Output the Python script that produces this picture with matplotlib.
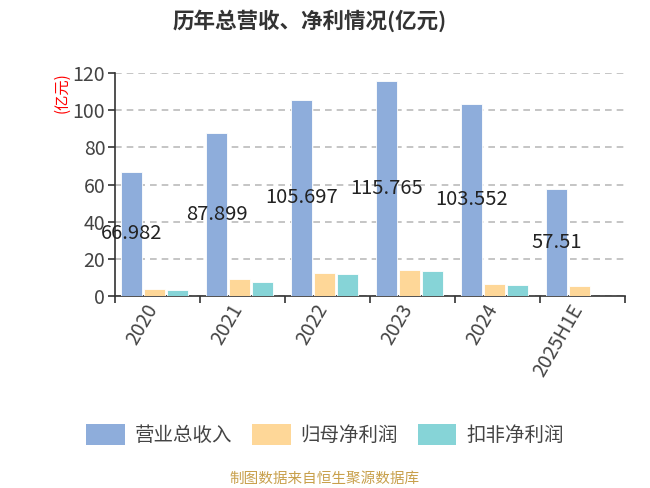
import matplotlib
matplotlib.use("Agg")
from matplotlib import pyplot as plt
from matplotlib.patches import Patch
from matplotlib.transforms import ScaledTranslation
import numpy as np

plt.rcParams['font.family'] = ['Noto Sans CJK SC', 'DejaVu Sans']

# data
years = ['2020', '2021', '2022', '2023', '2024', '2025H1E']
revenue = [66.982, 87.899, 105.697, 115.765, 103.552, 57.51]
net_profit = [4.0, 9.1, 12.2, 13.8, 6.4, 5.3]
net_profit_ex = [3.1, 7.5, 12.0, 13.3, 6.0, None]
series_names = ['营业总收入', '归母净利润', '扣非净利润']
colors = ['#8eaddb', '#fed798', '#86d4d7']

fig = plt.figure(figsize=(6.5, 4.88), dpi=100)
ax = fig.add_axes([0.177, 0.3934, 0.7845, 0.4566])

x = np.arange(len(years))
w = 0.25
step = 0.27
offsets = [-step, 0, step]
all_series = [revenue, net_profit, net_profit_ex]
for i, vals in enumerate(all_series):
    xs = [xi + offsets[i] - 0.035 for xi, v in zip(x, vals) if v is not None]
    vs = [v for v in vals if v is not None]
    ax.bar(xs, vs, width=w, color=colors[i], edgecolor='white', linewidth=0.6, zorder=3)

# revenue labels in the middle of the bar
for xi, v in zip(x, revenue):
    ax.text(xi + offsets[0] - 0.035, v / 2, f'{v:g}', ha='center', va='center',
            fontsize=14.5, color='#222222', zorder=5)

ax.set_xlim(-0.5, len(years) - 0.5)
ax.set_ylim(0, 120)
ax.set_yticks(np.arange(0, 121, 20))
ax.yaxis.grid(True, linestyle=(0, (4, 3)), color='#bbbbbb', linewidth=1.2, zorder=0)
ax.set_xticks(np.arange(-0.5, len(years)))
ax.set_xticklabels([])
ax.tick_params(axis='x', length=5, color='#333333', width=1.2)
ax.tick_params(axis='y', length=5, color='#333333', width=1.2, labelsize=14,
               labelcolor='#444444', pad=2)

# rotated category labels
shift = ScaledTranslation(-4 / 100, -10 / 100, fig.dpi_scale_trans)
for xi, yr in zip(x, years):
    ax.text(xi, 0, yr, transform=ax.get_xaxis_transform() + shift,
            rotation=60, ha='right', va='center', rotation_mode='anchor',
            fontsize=14, color='#444444')

for s in ['top', 'right']:
    ax.spines[s].set_visible(False)
for s in ['left', 'bottom']:
    ax.spines[s].set_color('#333333')
    ax.spines[s].set_linewidth(1.2)

fig.text(0.477, 0.958, '历年总营收、净利情况(亿元)', ha='center', va='center',
         fontsize=15.5, fontweight='bold', color='#333333')
fig.text(0.095, 0.81, '(亿元)', rotation=90, ha='center', va='center',
         fontsize=11, color='red')

handles = [Patch(facecolor=c, edgecolor='none') for c in colors]
fig.legend(handles, series_names, loc='center', bbox_to_anchor=(0.5, 0.108),
           ncol=3, frameon=False, fontsize=14, handlelength=2.0,
           handleheight=1.3, columnspacing=1.0, handletextpad=0.5,
           labelcolor='#444444')

fig.text(0.5, 0.018, '制图数据来自恒生聚源数据库', ha='center', va='center',
         fontsize=10.5, color='#c8a04c')

fig.savefig('out.png', dpi=100)
